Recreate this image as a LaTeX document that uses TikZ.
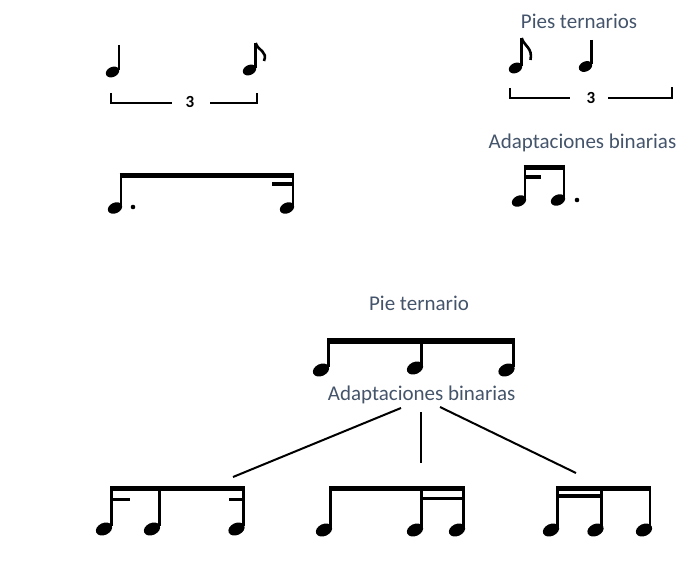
\documentclass[tikz,border=0pt]{standalone}
\usepackage{fontspec}
\setmainfont{Carlito}
\usepackage{xcolor}
\usetikzlibrary{calc,positioning}
\definecolor{rotulo}{RGB}{68,84,106}
\tikzset{
  tallo/.style={line width=2.8pt},
  viga/.style={line width=5pt},
  subviga/.style={line width=3.5pt},
  llave/.style={line width=2.4pt},
  rama/.style={line width=2pt},
  texto/.style={text=rotulo,font=\fontsize{21}{24}\selectfont,inner sep=0pt},
  tres/.style={font=\fontsize{17}{19}\selectfont\bfseries,inner sep=0pt},
}
\newcommand\cabeza[3]{\fill[rotate around={25:(#1)}] (#1) ellipse (#2pt and #3pt);}
\begin{document}
\begin{tikzpicture}[x=1pt,y=-1pt]
        \useasboundingbox (0,0) rectangle (683,575);
        % pies ternarios, arriba
        \node[texto] (piesTer) at (579,21) {Pies ternarios};
        \draw[tallo] (119,45) -- (119,70);     \cabeza{112.5,72}{7}{5}
        \draw[tallo] (255.7,43) -- (255.7,68); \cabeza{249.5,70}{7}{5}
        \draw[line width=2.6pt] (255.7,43) .. controls (258,51) and (268,51) .. (264,61);
        \draw[llave] (111,93) -- (111,103) -- (172,103);
        \draw[llave] (210,103) -- (257,103) -- (257,93);
        \node[tres] (tresA) at (190,102) {3};
        \draw[tallo] (521.7,38) -- (521.7,66); \cabeza{515.5,68}{7}{5}
        \draw[line width=2.6pt] (521.7,38) .. controls (524,46) and (533,48) .. (530.5,60);
        \draw[tallo] (591.5,40) -- (591.5,64); \cabeza{585.5,66.5}{7}{5}
        \draw[llave] (510,88) -- (510,98) -- (570,98);
        \draw[llave] (608,98) -- (672,98) -- (672,87);
        \node[tres] (tresB) at (591,98) {3};
        % adaptaciones binarias, en medio
        \node[texto] (adaptA) at (582.5,143) {Adaptaciones binarias};
        \draw[viga] (119.6,175.5) -- (294.4,175.5);
        \draw[tallo] (121,173) -- (121,206);   \cabeza{115,208}{7.5}{5.3}
        \draw[tallo] (293,173) -- (293,206);   \cabeza{287,208}{7.5}{5.3}
        \fill (133,207) circle (2.3pt);
        \draw[subviga] (272,184) -- (293,184);
        \draw[viga] (523.6,167.5) -- (565.4,167.5);
        \draw[tallo] (525,165) -- (525,198);   \cabeza{519,201}{7.5}{5.3}
        \draw[tallo] (564,165) -- (564,198);   \cabeza{558,200}{7.5}{5.3}
        \fill (577,200) circle (2.3pt);
        \draw[subviga] (525,177) -- (541,177);
        % pie ternario, abajo
        \node[texto] (pieTer) at (419,303) {Pie ternario};
        \draw[line width=6pt] (327,341) -- (514.8,341);
        \draw[tallo] (328.3,338) -- (328.3,367); \cabeza{321,370}{8.5}{6}
        \draw[tallo] (421.5,338) -- (421.5,365); \cabeza{415,368}{8.5}{6}
        \draw[tallo] (513.3,338) -- (513.3,367); \cabeza{506.5,370}{8.5}{6}
        \node[texto] (adaptB) at (421.7,395) {Adaptaciones binarias};
        \coordinate (raizI) at (401,408);
        \coordinate (raizC) at (421,412);
        \coordinate (raizD) at (440,407);
        \coordinate (grupoE) at (233,477);
        \coordinate (grupoF) at (421,463);
        \coordinate (grupoG) at (576,473);
        \draw[rama] (raizI) -- (grupoE);
        \draw[rama] (raizC) -- (grupoF);
        \draw[rama] (raizD) -- (grupoG);
        % tres adaptaciones
        \draw[viga] (110.3,488.5) -- (244.7,488.5);
        \draw[tallo] (111.7,486) -- (111.7,526); \cabeza{104,529}{8.5}{6}
        \draw[tallo] (159.3,486) -- (159.3,526); \cabeza{152,529}{8.5}{6}
        \draw[tallo] (243.3,486) -- (243.3,526); \cabeza{236.5,529}{8.5}{6}
        \draw[subviga] (111.7,499.5) -- (130,499.5);
        \draw[subviga] (229,499.5) -- (243.3,499.5);
        \draw[viga] (329.3,488.5) -- (465,488.5);
        \draw[tallo] (330.7,486) -- (330.7,527); \cabeza{324,530}{8.5}{6}
        \draw[tallo] (421.7,486) -- (421.7,527); \cabeza{415,530}{8.5}{6}
        \draw[tallo] (463.3,486) -- (463.3,527); \cabeza{457,530}{8.5}{6}
        \draw[subviga] (421.7,498.5) -- (463.3,498.5);
        \draw[viga] (556,488.5) -- (651.4,488.5);
        \draw[tallo] (557.3,486) -- (557.3,527); \cabeza{551,530}{8.5}{6}
        \draw[tallo] (601.7,486) -- (601.7,527); \cabeza{595.5,530}{8.5}{6}
        \draw[tallo] (650,486) -- (650,527);     \cabeza{644,530}{8.5}{6}
        \draw[subviga] (557.3,496) -- (601.7,496);
\end{tikzpicture}
\end{document}
